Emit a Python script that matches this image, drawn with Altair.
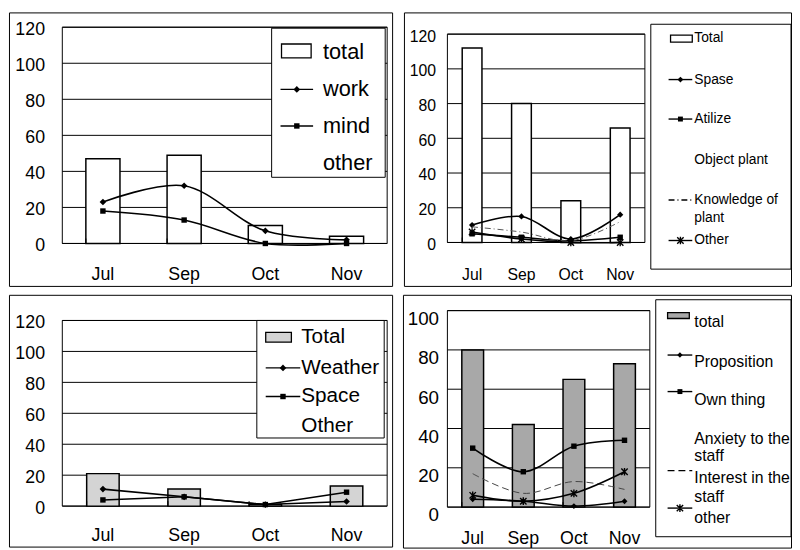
import altair as alt
import pandas as pd

FONT = "Liberation Sans"
months = ["Jul", "Sep", "Oct", "Nov"]

# ---- Panel 1 (top-left) ----
p1_total = [47, 49, 10, 4]
p1_work = [23, 32, 7, 2]
p1_mind = [18, 13, 0, 0]
p1_labels = ["total", "work", "mind", "other"]

# ---- Panel 2 (top-right) ----
p2_total = [112, 80, 24, 66]
p2_spase = [10, 15, 2, 16]
p2_atilize = [5, 3, 1, 3]
p2_knowledge = [9, 6, 1, 12]
p2_other = [6, 2, 0, 0]
p2_labels = ["Total", "Spase", "Atilize", "Object plant", "Knowledge of", "plant", "Other"]

# ---- Panel 3 (bottom-left) ----
p3_total = [21, 11, 1, 13]
p3_weather = [11, 6, 1, 3]
p3_space = [4, 6, 1, 9]
p3_labels = ["Total", "Weather", "Space", "Other"]

# ---- Panel 4 (bottom-right) ----
p4_total = [80, 42, 65, 73]
p4_proposition = [4, 3, 0.5, 3]
p4_own = [30, 18, 31, 34]
p4_interest = [17, 7, 13, 9]
p4_other = [6, 3, 7, 18]
p4_labels = ["total", "Proposition", "Own thing", "Anxiety to the", "staff",
             "Interest in the", "staff", "other"]

ticks120 = [0, 20, 40, 60, 80, 100, 120]
ticks100 = [0, 20, 40, 60, 80, 100]

ASTERISK = "M-1,-1L1,1M-1,1L1,-1M0,-1.2L0,1.2"
ONE = pd.DataFrame({"k": [0]})


def marker(data, shape, size, x, y):
    if shape == "asterisk":
        m = alt.Chart(data).mark_point(shape=ASTERISK, filled=False, stroke="black",
                                       strokeWidth=1.4, size=42, opacity=1)
    else:
        m = alt.Chart(data).mark_point(shape=shape, filled=True, color="black",
                                       size=size, opacity=1)
    return m.encode(x=x, y=y)


def panel(FW, FH, plot, total, bar_fill, series, ymax, yvals, ax, legend_box,
          items, lfont, text_x, sym_x, pad_in=0.58):
    pl, pr, pt, pb = plot
    X = alt.X("month:N", sort=months, title=None,
              scale=alt.Scale(range=[pl, pr], paddingInner=pad_in, paddingOuter=pad_in / 2),
              axis=alt.Axis(labelFontSize=ax["xfs"], labelPadding=ax["xpad"], ticks=False,
                            labelAngle=0, domain=False, labelColor="black", labelFont=FONT,
                            grid=False, offset=-(FH - pb)))
    Y = alt.Y("value:Q", title=None,
              scale=alt.Scale(domain=[0, ymax], range=[pb, pt], nice=False),
              axis=alt.Axis(values=yvals, grid=False, ticks=False, domain=False,
                            labelFontSize=ax["yfs"], labelPadding=ax["ypad"],
                            labelOffset=ax["yoff"], labelColor="black", labelFont=FONT,
                            offset=-pl))
    layers = []
    gdf = pd.DataFrame({"value": yvals})
    layers.append(alt.Chart(gdf).mark_rule(color="black", strokeWidth=1).encode(
        y=Y, x=alt.value(pl), x2=alt.value(pr)))
    layers.append(alt.Chart(ONE).mark_rect(fill="white", fillOpacity=0, stroke="black",
                                           strokeWidth=1).encode(
        x=alt.value(pl), x2=alt.value(pr), y=alt.value(pt), y2=alt.value(pb)))
    bdf = pd.DataFrame({"month": months, "value": total})
    layers.append(alt.Chart(bdf).mark_bar(fill=bar_fill, stroke="black", strokeWidth=1.5)
                  .encode(x=X, y=Y))
    # small upward ticks at the band boundaries
    layers.append(alt.Chart(bdf).mark_rule(color="black", strokeWidth=1).encode(
        x=alt.X("month:N", sort=months, bandPosition=0, title=None),
        y=alt.value(pb - 5), y2=alt.value(pb)))
    for s in series:
        sdf = pd.DataFrame({"month": months, "value": s["values"]})
        lk = dict(color=s.get("color", "black"), strokeWidth=s.get("width", 1.6),
                  interpolate=s.get("interp", "catmull-rom"))
        if s.get("dash"):
            lk["strokeDash"] = s["dash"]
        layers.append(alt.Chart(sdf).mark_line(**lk).encode(x=X, y=Y))
        if s.get("shape"):
            layers.append(marker(sdf, s["shape"], s.get("size", 35), X, Y))
    # legend
    bx0, bx1, by0, by1 = legend_box
    layers.append(alt.Chart(ONE).mark_rect(fill="white", stroke="black", strokeWidth=1).encode(
        x=alt.value(bx0), x2=alt.value(bx1), y=alt.value(by0), y2=alt.value(by1)))
    sx0, sx1 = sym_x
    for it in items:
        layers.append(alt.Chart(ONE).mark_text(text=it["label"], align="left", baseline="middle",
                                               font=FONT, fontSize=lfont, color="black").encode(
            x=alt.value(text_x), y=alt.value(it["ty"])))
        sym = it.get("sym")
        if sym == "rect":
            r0, r1, ry0, ry1 = it["rect"]
            layers.append(alt.Chart(ONE).mark_rect(fill=bar_fill, stroke="black",
                                                   strokeWidth=1.3).encode(
                x=alt.value(r0), x2=alt.value(r1), y=alt.value(ry0), y2=alt.value(ry1)))
        elif sym == "line":
            rk = dict(color=it.get("color", "black"), strokeWidth=1.4)
            if it.get("dash"):
                rk["strokeDash"] = it["dash"]
            layers.append(alt.Chart(ONE).mark_rule(**rk).encode(
                x=alt.value(sx0), x2=alt.value(sx1), y=alt.value(it["sy"])))
            if it.get("shape"):
                layers.append(marker(ONE, it["shape"], it.get("size", 35),
                                     alt.value((sx0 + sx1) / 2), alt.value(it["sy"])))
    return alt.layer(*layers).properties(width=FW, height=FH)


DASH = [7, 4]
DASHDOT = [6, 3, 1, 3]

p1 = panel(
    388, 277, (54, 383, 15, 234), p1_total, "white",
    [dict(values=p1_work, shape="diamond", size=45),
     dict(values=p1_mind, shape="square", size=30)],
    120, ticks120,
    dict(xfs=18, xpad=22, yfs=18, ypad=18, yoff=2),
    (266, 381, 16, 167),
    [dict(label=p1_labels[0], ty=40, sym="rect", rect=(276, 306, 32, 46)),
     dict(label=p1_labels[1], ty=78, sym="line", sy=78, shape="diamond", size=45),
     dict(label=p1_labels[2], ty=115, sym="line", sy=115, shape="square", size=30),
     dict(label=p1_labels[3], ty=153)],
    22, 318, (275, 308))

p2 = panel(
    392, 277, (44, 244, 22, 233), p2_total, "white",
    [dict(values=p2_spase, shape="diamond", size=40),
     dict(values=p2_atilize, shape="square", size=30),
     dict(values=p2_knowledge, dash=DASHDOT, color="#555555", width=1),
     dict(values=p2_other, shape="asterisk")],
    120, ticks120,
    dict(xfs=16, xpad=25, yfs=16, ypad=12, yoff=2),
    (250, 392, 12, 260),
    [dict(label=p2_labels[0], ty=26, sym="rect", rect=(270, 292, 23, 30)),
     dict(label=p2_labels[1], ty=68, sym="line", sy=68, shape="diamond", size=35),
     dict(label=p2_labels[2], ty=108, sym="line", sy=108, shape="square", size=25),
     dict(label=p2_labels[3], ty=150),
     dict(label=p2_labels[4], ty=190, sym="line", sy=190, dash=DASHDOT),
     dict(label=p2_labels[5], ty=208),
     dict(label=p2_labels[6], ty=231, sym="line", sy=231, shape="asterisk")],
    14, 294, (268, 292), pad_in=0.6)

p3 = panel(
    388, 255, (54, 383, 26, 214), p3_total, "#d4d4d4",
    [dict(values=p3_weather, shape="diamond", size=45, interp="linear"),
     dict(values=p3_space, shape="square", size=30, interp="linear")],
    120, ticks120,
    dict(xfs=18, xpad=21, yfs=18, ypad=18, yoff=2),
    (251, 380, 26, 145),
    [dict(label=p3_labels[0], ty=43, sym="rect", rect=(260, 286, 38, 48)),
     dict(label=p3_labels[1], ty=74, sym="line", sy=74, shape="diamond", size=45),
     dict(label=p3_labels[2], ty=103, sym="line", sy=103, shape="square", size=30),
     dict(label=p3_labels[3], ty=133)],
    21, 296, (260, 295), pad_in=0.6)

p4 = panel(
    393, 256, (45, 250, 16, 215), p4_total, "#a8a8a8",
    [dict(values=p4_own, shape="square", size=30),
     dict(values=p4_interest, dash=DASH, color="#444444", width=1),
     dict(values=p4_other, shape="asterisk"),
     dict(values=p4_proposition, shape="diamond", size=35)],
    100, ticks100,
    dict(xfs=18, xpad=23, yfs=19, ypad=9, yoff=8),
    (256, 393, 5, 245),
    [dict(label=p4_labels[0], ty=28, sym="rect", rect=(268, 290, 18, 24)),
     dict(label=p4_labels[1], ty=68, sym="line", sy=61, shape="diamond", size=30),
     dict(label=p4_labels[2], ty=107, sym="line", sy=98, shape="square", size=25),
     dict(label=p4_labels[3], ty=146),
     dict(label=p4_labels[4], ty=163),
     dict(label=p4_labels[5], ty=186, sym="line", sy=178, dash=DASH),
     dict(label=p4_labels[6], ty=205),
     dict(label=p4_labels[7], ty=226, sym="line", sy=216, shape="asterisk")],
    16, 295, (268, 293), pad_in=0.57)

chart = alt.vconcat(
    alt.hconcat(p1, p2, spacing=12, bounds="flush"),
    alt.hconcat(p3, p4, spacing=11, bounds="flush"),
    spacing=7,
).properties(padding=0, background="white").configure_view(stroke="black", strokeWidth=1)

chart.save("out.html", embed_options={"renderer": "svg", "actions": False})
